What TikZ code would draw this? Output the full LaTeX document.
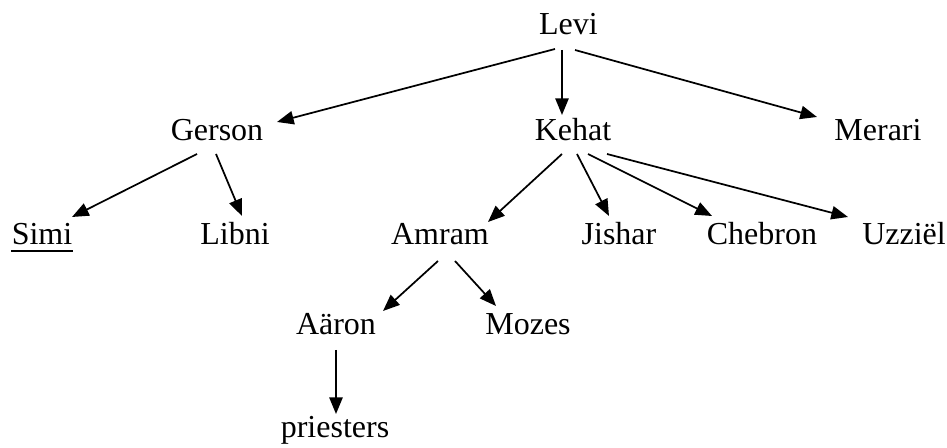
\documentclass[tikz,border=0pt]{standalone}
\usepackage{fontspec}
\setmainfont{Liberation Serif}
\usetikzlibrary{arrows.meta}
\tikzset{
  person/.style={anchor=base, inner sep=0pt, font=\fontsize{24}{28}\selectfont},
  link/.style={line width=1.3pt, -{Triangle[length=12.5pt,width=10pt]}},
}
\newcommand{\myarr}[4]{\draw[link] ([shift={#2}]#1.base) -- ([shift={#4}]#3.base);}
\begin{document}
\begin{tikzpicture}[x=0.75pt,y=-0.75pt]
\useasboundingbox (0,0) rectangle (947,448);
\node[person] (levi) at (568.5,35) {Levi};
\node[person] (gerson) at (217,141) {Gerson};
\node[person] (kehat) at (573,141) {Kehat};
\node[person] (merari) at (878,141) {Merari};
\node[person] (simi) at (42,245) {Simi};
\node[person] (libni) at (235,245) {Libni};
\node[person] (amram) at (440,245) {Amram};
\node[person] (jishar) at (619,245) {Jishar};
\node[person] (chebron) at (762,245) {Chebron};
\node[person] (uzziel) at (904,245) {Uzziël};
\node[person] (aaron) at (336,335) {Aäron};
\node[person] (mozes) at (528,335) {Mozes};
\node[person] (priesters) at (335,438) {priesters};
\draw[line width=1.1pt] ([yshift=-4.5pt]simi.base west) -- ([yshift=-4.5pt]simi.base east);
\myarr{levi}{(-13.5,14)}{gerson}{(60,-19)}
\myarr{levi}{(-6.5,15)}{kehat}{(-11,-26)}
\myarr{levi}{(6.5,15)}{merari}{(-61,-24)}
\myarr{gerson}{(-20,13)}{simi}{(30,-28)}
\myarr{gerson}{(-1,13)}{libni}{(7,-29)}
\myarr{kehat}{(-11,13)}{amram}{(48,-23)}
\myarr{kehat}{(4,13)}{jishar}{(-10,-29)}
\myarr{kehat}{(15,13)}{chebron}{(-50,-29)}
\myarr{kehat}{(34,13)}{uzziel}{(-56,-28)}
\myarr{amram}{(-2,16)}{aaron}{(47,-24)}
\myarr{amram}{(15,16)}{mozes}{(-32,-29)}
\myarr{aaron}{(0,15)}{priesters}{(1,-24)}
\end{tikzpicture}
\end{document}
